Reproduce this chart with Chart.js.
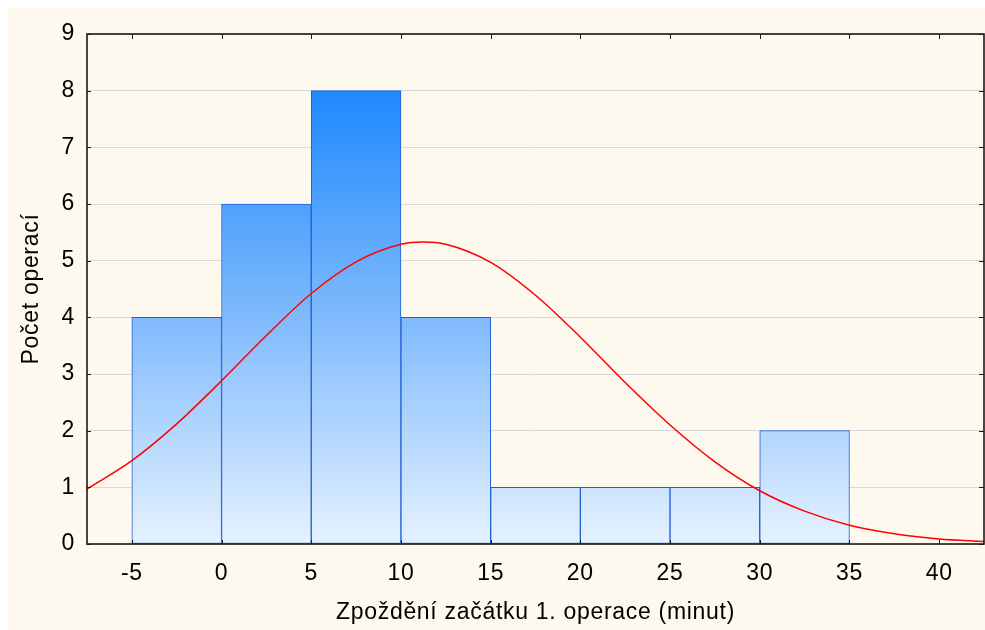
<!DOCTYPE html>
<html>
<head>
<meta charset="utf-8">
<script src="https://cdn.jsdelivr.net/npm/chart.js@4"></script>
<style>
  body { margin: 0; background: #ffffff; }
  .panel {
    position: absolute;
    left: 8px;
    top: 8px;
    width: 977px;
    height: 622px;
    background: #fdf9ef;
  }
</style>
</head>
<body>
<div class="panel"><canvas id="hist" width="977" height="622"></canvas></div>
<script>
// histogram bins (midpoints) and counts
const binMids = [-2.5, 2.5, 7.5, 12.5, 17.5, 22.5, 27.5, 32.5];
const counts = [4, 6, 8, 4, 1, 1, 1, 2];

// fitted normal curve
const curveX = [-7.5, -5, -2.5, 0, 2.5, 5, 7.5, 10, 11.25, 12.5, 15, 17.5, 20, 22.5, 25, 27.5, 30, 32.5, 35, 37.5, 40, 42.5];
const curveY = [0.97, 1.47, 2.12, 2.88, 3.68, 4.42, 4.98, 5.29, 5.33, 5.29, 4.97, 4.39, 3.65, 2.85, 2.10, 1.45, 0.94, 0.58, 0.33, 0.18, 0.09, 0.045];

const xTicks = [-5, 0, 5, 10, 15, 20, 25, 30, 35, 40];
const yTicks = [0, 1, 2, 3, 4, 5, 6, 7, 8, 9];

const FONT = "'Liberation Sans', Arial, sans-serif";

// the original text is a little wider than Arial, so space the letters out a bit
const spacing = {
  id: "spacing",
  beforeUpdate(chart) { chart.ctx.letterSpacing = "0.7px"; },
  beforeDraw(chart) { chart.ctx.letterSpacing = "0.7px"; },
};

// frame around the plot + small inward tick marks
const frame = {
  id: "frame",
  afterDraw(chart) {
    const { ctx, chartArea: a, scales } = chart;
    ctx.save();
    ctx.strokeStyle = "#1a1a1a";
    ctx.lineWidth = 1;
    ctx.beginPath();
    xTicks.forEach((v) => {
      const px = Math.round(scales.x.getPixelForValue(v)) + 0.5;
      ctx.moveTo(px, a.bottom);
      ctx.lineTo(px, a.bottom - 4);
      ctx.moveTo(px, a.top);
      ctx.lineTo(px, a.top + 5);
    });
    yTicks.forEach((v) => {
      const py = Math.round(scales.y.getPixelForValue(v)) + 0.5;
      ctx.moveTo(a.left, py);
      ctx.lineTo(a.left + 4, py);
      ctx.moveTo(a.right, py);
      ctx.lineTo(a.right - 5, py);
    });
    ctx.stroke();
    ctx.lineWidth = 1.6;
    ctx.strokeRect(a.left, a.top, a.right - a.left, a.bottom - a.top);
    ctx.restore();
  },
};

new Chart(document.getElementById("hist"), {
  type: "bar",
  data: {
    datasets: [
      {
        type: "line",
        data: curveX.map((x, i) => ({ x: x, y: curveY[i] })),
        borderColor: "#ff0000",
        borderWidth: 1.5,
        pointRadius: 0,
        cubicInterpolationMode: "monotone",
        order: 0,
      },
      {
        type: "bar",
        data: binMids.map((x, i) => ({ x: x, y: counts[i] })),
        backgroundColor: function (c) {
          const chart = c.chart;
          if (!chart.chartArea) return "#80bdfd";
          const y = chart.scales.y;
          const g = chart.ctx.createLinearGradient(0, y.getPixelForValue(8), 0, y.getPixelForValue(0));
          g.addColorStop(0, "#1e88ff");
          g.addColorStop(0.5, "#7fbafc");
          g.addColorStop(1, "#e6f2fe");
          return g;
        },
        borderColor: "#1f5ed6",
        borderWidth: 1,
        borderSkipped: false,
        barPercentage: 1,
        categoryPercentage: 1,
        order: 1,
      },
    ],
  },
  options: {
    responsive: false,
    devicePixelRatio: 1,
    animation: false,
    layout: { padding: { top: 26, right: 1, left: 0, bottom: 0 } },
    plugins: {
      legend: { display: false },
      tooltip: { enabled: false },
    },
    scales: {
      x: {
        type: "linear",
        min: -7.5,
        max: 42.5,
        offset: false,
        afterBuildTicks: (s) => { s.ticks = xTicks.map((v) => ({ value: v })); },
        afterFit: (s) => { s.height = 86; },
        grid: { display: false, drawTicks: false },
        border: { display: false },
        ticks: {
          padding: 16,
          color: "#000000",
          font: { family: FONT, size: 23 },
          maxRotation: 0,
          autoSkip: false,
        },
        title: {
          display: true,
          text: "Zpoždění začátku 1. operace (minut)",
          color: "#000000",
          font: { family: FONT, size: 23 },
          padding: { top: 0, bottom: 4 },
        },
      },
      y: {
        min: 0,
        max: 9,
        afterBuildTicks: (s) => { s.ticks = yTicks.map((v) => ({ value: v })); },
        afterFit: (s) => { s.width = 79; },
        grid: { color: "#d9d9d9", lineWidth: 1, drawTicks: false },
        border: { display: false },
        ticks: {
          padding: 12,
          color: "#000000",
          font: { family: FONT, size: 23 },
        },
        title: {
          display: true,
          text: "Počet operací",
          color: "#000000",
          font: { family: FONT, size: 23 },
          padding: { top: 10, bottom: 0 },
        },
      },
    },
  },
  plugins: [spacing, frame],
});
</script>
</body>
</html>
